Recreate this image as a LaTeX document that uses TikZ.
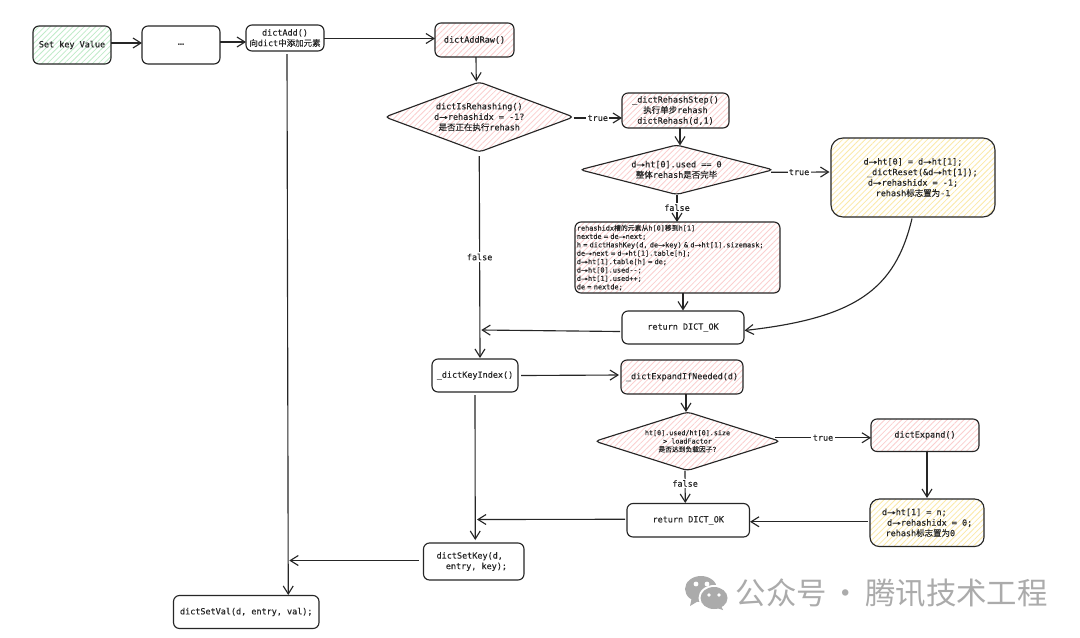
\documentclass[tikz,border=0pt]{standalone}
\usepackage{fontspec}
\usepackage{graphicx}
\setmonofont[FakeBold=0.12]{DejaVu Sans Mono}
\newfontfamily\plainmono{DejaVu Sans Mono}
\newfontfamily\cjk[FakeBold=0.1]{Noto Sans CJK SC}
\newfontfamily\cjkplain{Noto Sans CJK SC}
\usetikzlibrary{arrows.meta,patterns.meta,shapes.geometric,calc}
\newcommand\zh[1]{{\cjk #1}}
\newcommand\ra{\scalebox{1.7}[1]{→}}
\newcommand\boxn[7]{\node[#6,minimum width=(#4-#2)*0.75pt,minimum height=(#5-#3)*0.75pt] (#1) at ({(#2+#4)/2},{(#3+#5)/2}) {#7};}
\definecolor{ink}{HTML}{262626}
\definecolor{hgreen}{HTML}{BFEBC8}
\definecolor{hpink}{HTML}{FBCFCF}
\definecolor{hyellow}{HTML}{FCE9A6}
\definecolor{wm}{HTML}{ABABAB}
\tikzset{
  txt/.style={font=\ttfamily\fontsize{6.35}{7.9}\selectfont,text=ink,align=center},
  bx/.style={txt,draw=ink,line width=.85pt,rounded corners=4.5pt,inner sep=0pt,outer sep=0pt},
  dm/.style={txt,draw=ink,line width=.85pt,diamond,rounded corners=3pt,inner sep=0pt,outer sep=0pt,shape aspect=3},
  hgr/.style={pattern={Lines[angle=45,distance=3pt,line width=.6pt]},pattern color=hgreen},
  hpk/.style={pattern={Lines[angle=45,distance=3pt,line width=.6pt]},pattern color=hpink},
  hyl/.style={pattern={Lines[angle=45,distance=3pt,line width=.6pt]},pattern color=hyellow},
  conn/.style={draw=ink,line width=.85pt,-{Straight Barb[length=6pt,width=7.5pt]}},
  lab/.style={txt,fill=white,inner sep=1pt},
}
\begin{document}
\begin{tikzpicture}[x=0.75pt,y=-0.75pt]
\useasboundingbox (0,0) rectangle (1080,637);
\fill[white] (0,0) rectangle (1080,637);

% boxes
\boxn{setkey}{33}{26}{111}{64}{bx,hgr}{Set key Value}
\boxn{dots}{142}{26}{220}{64}{bx,font=\plainmono\fontsize{8}{8}\selectfont}{…}
\boxn{dictAdd}{246}{25}{324}{51}{bx}{dictAdd()\\\zh{向}dict\zh{中添加元素}}
\boxn{raw}{435}{23}{514}{57}{bx,hpk}{dictAddRaw()}
\boxn{isre}{385}{82}{573.5}{152}{dm,hpk}{dictIsRehashing()\\d\ra rehashidx = -1?\\\zh{是否正在执行}rehash}
\boxn{step}{622}{93}{729}{128}{bx,hpk}{\_dictRehashStep()\\\zh{执行单步}rehash\\dictRehash(d,1)}
\boxn{used}{580}{145}{773}{194.5}{dm,hpk,shape aspect=4.5}{d\ra ht[0].used == 0\\\zh{整体}rehash\zh{是否完毕}}
\boxn{reset}{831}{138}{995}{217}{bx,hyl,rounded corners=9pt}{d\ra ht[0] = d\ra ht[1];\\\hspace*{14pt}\_dictReset(\&d\ra ht[1]);\\d\ra rehashidx = -1;\\rehash\zh{标志置为}-1}
\boxn{move}{575}{222}{780}{293}{bx,hpk,align=left,text width=151pt,inner xsep=.5pt,font=\ttfamily\fontsize{5.15}{6.3}\selectfont}{rehashidx\zh{槽的元素从}h[0]\zh{移到}h[1]\\nextde = de\ra next;\\h = dictHashKey(d, de\ra key) \& d\ra ht[1].sizemask;\\de\ra next = d\ra ht[1].table[h];\\d\ra ht[1].table[h] = de;\\d\ra ht[0].used--;\\d\ra ht[1].used++;\\de = nextde;}
\boxn{retone}{622}{311}{744}{344}{bx}{return DICT\_OK}
\boxn{keyidx}{432}{359}{518}{392}{bx}{\_dictKeyIndex()}
\boxn{expif}{621}{360}{743}{394}{bx,hpk}{\_dictExpandIfNeeded(d)}
\boxn{load}{595}{412}{780}{470.5}{dm,hpk,shape aspect=4,font=\ttfamily\fontsize{5.05}{6.25}\selectfont}{ht[0].used/ht[0].size\\> loadFactor\\\zh{是否达到负载因子}?}
\boxn{expand}{871}{419}{979}{451.5}{bx,hpk}{dictExpand()}
\boxn{rettwo}{627}{503.5}{749.5}{537}{bx}{return DICT\_OK}
\boxn{setn}{870}{499}{984}{546.5}{bx,hyl,rounded corners=7pt}{\hspace*{0pt}d\ra ht[1] = n;\hspace*{19pt}\\\hspace*{4pt}d\ra rehashidx = 0;\\rehash\zh{标志置为}0\hspace*{10pt}}
\boxn{setkeyfn}{423.5}{543}{524}{580}{bx}{dictSetKey(d,\hspace*{6pt}\\\hspace*{4pt}entry, key);}
\boxn{setval}{173.5}{595.5}{319}{628.5}{bx}{dictSetVal(d, entry, val);}

% connectors
\draw[conn] ($(setkey.east)+(0,-2)$) -- (dots.west |- {$(setkey.east)+(0,-2)$});
\draw[conn] ($(dots.east)+(0,-3)$) -- ($(dictAdd.west)+(0,4)$);
\draw[conn] ($(dictAdd.east)+(0,.5)$) -- ($(raw.west)+(0,-1.5)$);
\draw[conn] ($(raw.south)+(1.5,0)$) -- ($(isre.north)+(-3,-.5)$);
\draw[conn] ($(isre.east)+(0,1)$) -- node[lab,pos=.5]{true} ($(step.west)+(0,7.5)$);
\draw[conn] ($(step.south)+(4.5,0)$) -- ($(used.north)+(3.5,.5)$);
\draw[conn] ($(used.east)+(-2,2.5)$) -- node[lab,pos=.48]{true} ($(reset.west)+(-1.5,-5.5)$);
\draw[conn] ($(used.south)+(.5,0)$) -- node[lab,pos=.48]{false} ($(move.north)+(-.5,0)$);
\draw[conn] ($(move.south)+(5.5,0)$) -- ($(retone.north)+(0,-.5)$);
\draw[conn] ($(reset.south)+(-1,1.5)$) .. controls (895,290) and (855,318) .. ($(retone.east)+(.5,3)$);
\draw[conn] ($(retone.west)+(-2,4)$) -- ($(isre.south)+(2,178)$);
\draw[conn] ($(isre.south)+(0,4)$) -- node[lab,pos=.5]{false} ($(keyidx.north)+(5,-1)$);
\draw[conn] ($(keyidx.east)+(3,0)$) -- ($(expif.west)+(-2,-2)$);
\draw[conn] ($(expif.south)+(4,0)$) -- ($(load.north)+(-1.5,0)$);
\draw[conn] ($(load.east)+(-5,-3.5)$) -- node[lab,pos=.5]{true} ($(expand.west)+(0,2.5)$);
\draw[conn] ($(load.south)+(-2.5,0)$) -- node[lab,pos=.4]{false} ($(rettwo.north)+(-3,-.5)$);
\draw[conn] ($(expand.south)+(2,0)$) -- ($(setn.north)+(0,-1)$);
\draw[conn] ($(setn.west)+(-2,-1)$) -- ($(rettwo.east)+(.5,1.5)$);
\draw[conn] ($(rettwo.west)+(-2,-1)$) -- ($(keyidx.south)+(2,127.5)$);
\draw[conn] ($(keyidx.south)+(0,3)$) -- ($(setkeyfn.north)+(1.5,-3)$);
\draw[conn] ($(setkeyfn.west)+(-5,-1)$) -- ($(setval.north)+(43,-35)$);
\draw[conn] ($(dictAdd.south)+(2,3)$) -- ($(setval.north)+(42,-.5)$);

% watermark
\fill[wm] (701,589) ellipse (16 and 13);
\fill[wm] (692,597) -- (690,606) -- (700,600) -- cycle;
\fill[white] (714,598) ellipse (15.5 and 13);
\fill[wm] (714,598) ellipse (13.5 and 11);
\fill[wm] (720,604) -- (723,610) -- (714,607) -- cycle;
\fill[white] (696,584) circle (2.4) (707,584) circle (2.4) (709,595) circle (1.9) (719,595) circle (1.9);
\node[anchor=west,inner sep=0pt,text=wm,font=\cjkplain\fontsize{22.8}{24}\selectfont] (wmtext) at (735.5,593) {公众号\hspace{3pt}·\hspace{3pt}腾讯技术工程};
\end{tikzpicture}
\end{document}
